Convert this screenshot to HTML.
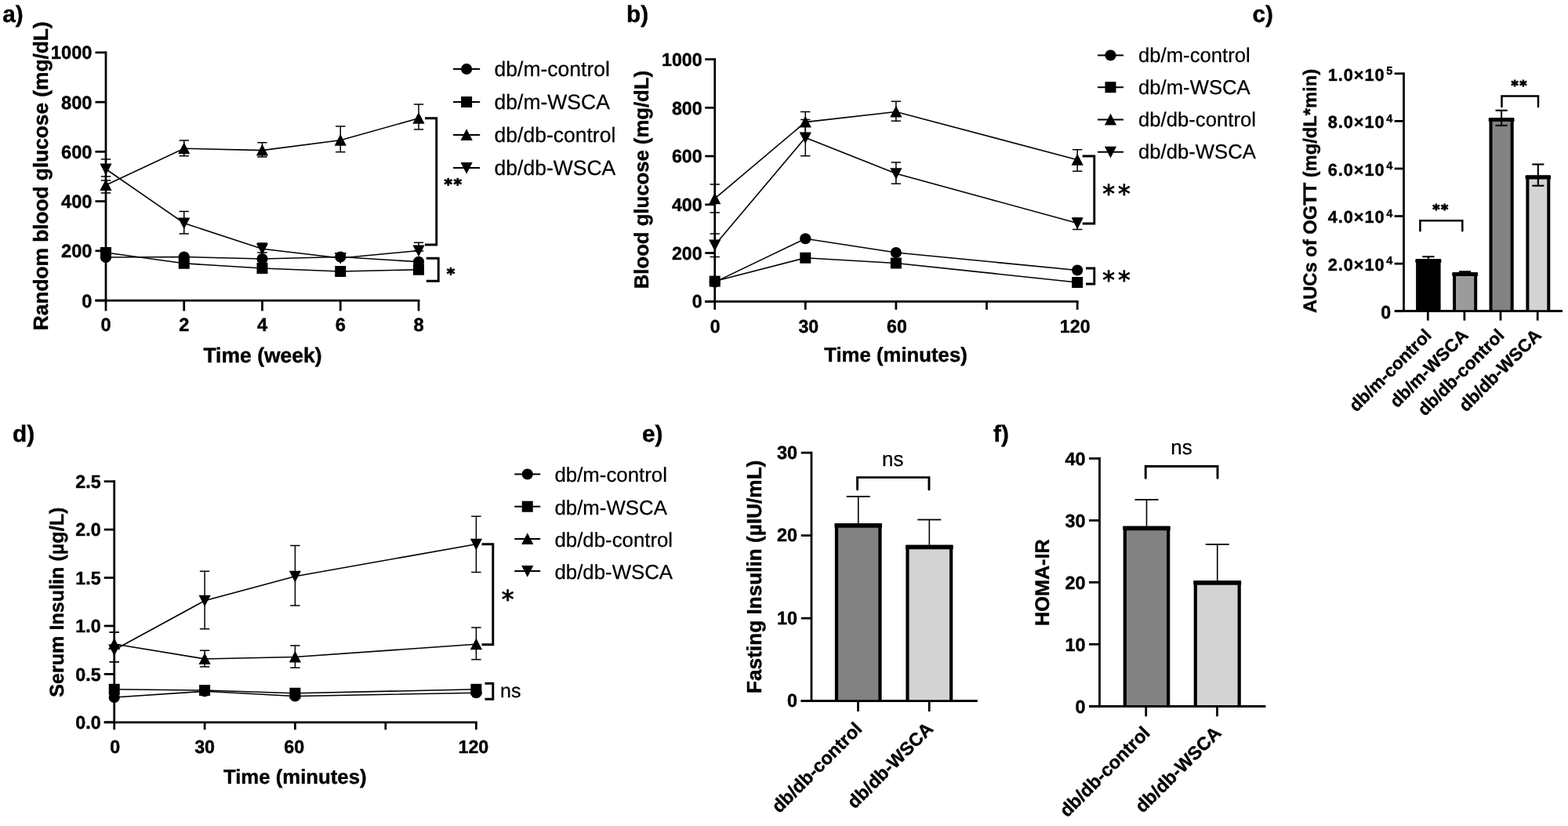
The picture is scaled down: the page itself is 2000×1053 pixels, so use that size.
<!DOCTYPE html>
<html lang="en">
<head>
<meta charset="utf-8">
<title>Figure: glucose and insulin in db/m and db/db mice treated with WSCA</title>
<style>
html,body{margin:0;padding:0;background:#fff;}
body{width:2000px;height:1053px;overflow:hidden;}
svg{display:block;font-family:'Liberation Sans', sans-serif;fill:#000;text-rendering:geometricPrecision;}
text.b{font-weight:bold;stroke:#000;stroke-width:0.42px;stroke-linejoin:round;}
text.r{font-weight:normal;stroke:#000;stroke-width:0.25px;stroke-linejoin:round;}
</style>
</head>
<body>
<svg width="2000" height="1053" viewBox="0 0 2000 1053">
<rect x="0" y="0" width="2000" height="1053" fill="#fff"/>
<text class="b" x="3.30" y="27.60" font-size="29.8" text-anchor="start">a)</text>
<line x1="135.00" y1="65.58" x2="135.00" y2="384.38" stroke="#000" stroke-width="2.75" stroke-linecap="butt"/>
<line x1="121.50" y1="383.00" x2="535.38" y2="383.00" stroke="#000" stroke-width="2.75" stroke-linecap="butt"/>
<line x1="121.50" y1="66.95" x2="135.00" y2="66.95" stroke="#000" stroke-width="2.75" stroke-linecap="butt"/>
<text class="b" x="117.50" y="75.46" font-size="23.7" text-anchor="end">1000</text>
<line x1="121.50" y1="130.16" x2="135.00" y2="130.16" stroke="#000" stroke-width="2.75" stroke-linecap="butt"/>
<text class="b" x="117.50" y="138.67" font-size="23.7" text-anchor="end">800</text>
<line x1="121.50" y1="193.37" x2="135.00" y2="193.37" stroke="#000" stroke-width="2.75" stroke-linecap="butt"/>
<text class="b" x="117.50" y="201.88" font-size="23.7" text-anchor="end">600</text>
<line x1="121.50" y1="256.58" x2="135.00" y2="256.58" stroke="#000" stroke-width="2.75" stroke-linecap="butt"/>
<text class="b" x="117.50" y="265.09" font-size="23.7" text-anchor="end">400</text>
<line x1="121.50" y1="319.79" x2="135.00" y2="319.79" stroke="#000" stroke-width="2.75" stroke-linecap="butt"/>
<text class="b" x="117.50" y="328.30" font-size="23.7" text-anchor="end">200</text>
<line x1="121.50" y1="383.00" x2="135.00" y2="383.00" stroke="#000" stroke-width="2.75" stroke-linecap="butt"/>
<text class="b" x="117.50" y="391.51" font-size="23.7" text-anchor="end">0</text>
<line x1="135.00" y1="383.00" x2="135.00" y2="396.40" stroke="#000" stroke-width="2.75" stroke-linecap="butt"/>
<text class="b" x="135.00" y="422.20" font-size="23.7" text-anchor="middle">0</text>
<line x1="234.75" y1="383.00" x2="234.75" y2="396.40" stroke="#000" stroke-width="2.75" stroke-linecap="butt"/>
<text class="b" x="234.75" y="422.20" font-size="23.7" text-anchor="middle">2</text>
<line x1="334.50" y1="383.00" x2="334.50" y2="396.40" stroke="#000" stroke-width="2.75" stroke-linecap="butt"/>
<text class="b" x="334.50" y="422.20" font-size="23.7" text-anchor="middle">4</text>
<line x1="434.25" y1="383.00" x2="434.25" y2="396.40" stroke="#000" stroke-width="2.75" stroke-linecap="butt"/>
<text class="b" x="434.25" y="422.20" font-size="23.7" text-anchor="middle">6</text>
<line x1="534.00" y1="383.00" x2="534.00" y2="396.40" stroke="#000" stroke-width="2.75" stroke-linecap="butt"/>
<text class="b" x="534.00" y="422.20" font-size="23.7" text-anchor="middle">8</text>
<text class="b" x="61.30" y="224.30" font-size="26.25" text-anchor="middle" transform="rotate(-90 61.30 224.30)">Random blood glucose (mg/dL)</text>
<text class="b" x="335.00" y="462.00" font-size="26.5" text-anchor="middle">Time (week)</text>
<polyline points="135.00,328.00 234.75,327.50 334.50,330.00 434.25,327.50 534.00,333.75" fill="none" stroke="#000" stroke-width="1.6"/>
<circle cx="135.00" cy="328.00" r="7.10"/>
<circle cx="234.75" cy="327.50" r="7.10"/>
<circle cx="334.50" cy="330.00" r="7.10"/>
<circle cx="434.25" cy="327.50" r="7.10"/>
<circle cx="534.00" cy="333.75" r="7.10"/>
<polyline points="135.00,322.00 234.75,335.75 334.50,342.00 434.25,346.00 534.00,343.75" fill="none" stroke="#000" stroke-width="1.6"/>
<rect x="128.00" y="315.00" width="14.00" height="14.00"/>
<rect x="227.75" y="328.75" width="14.00" height="14.00"/>
<rect x="327.50" y="335.00" width="14.00" height="14.00"/>
<rect x="427.25" y="339.00" width="14.00" height="14.00"/>
<rect x="527.00" y="336.75" width="14.00" height="14.00"/>
<polyline points="135.00,236.00 234.75,189.30 334.50,191.60 434.25,178.75 534.00,150.75" fill="none" stroke="#000" stroke-width="1.6"/>
<line x1="135.00" y1="225.00" x2="135.00" y2="246.00" stroke="#000" stroke-width="1.5" stroke-linecap="butt"/>
<line x1="128.80" y1="225.00" x2="141.20" y2="225.00" stroke="#000" stroke-width="1.5" stroke-linecap="butt"/>
<line x1="128.80" y1="246.00" x2="141.20" y2="246.00" stroke="#000" stroke-width="1.5" stroke-linecap="butt"/>
<line x1="234.75" y1="179.00" x2="234.75" y2="198.75" stroke="#000" stroke-width="1.5" stroke-linecap="butt"/>
<line x1="228.55" y1="179.00" x2="240.95" y2="179.00" stroke="#000" stroke-width="1.5" stroke-linecap="butt"/>
<line x1="228.55" y1="198.75" x2="240.95" y2="198.75" stroke="#000" stroke-width="1.5" stroke-linecap="butt"/>
<line x1="334.50" y1="181.75" x2="334.50" y2="200.00" stroke="#000" stroke-width="1.5" stroke-linecap="butt"/>
<line x1="328.30" y1="181.75" x2="340.70" y2="181.75" stroke="#000" stroke-width="1.5" stroke-linecap="butt"/>
<line x1="328.30" y1="200.00" x2="340.70" y2="200.00" stroke="#000" stroke-width="1.5" stroke-linecap="butt"/>
<line x1="434.25" y1="161.00" x2="434.25" y2="193.75" stroke="#000" stroke-width="1.5" stroke-linecap="butt"/>
<line x1="428.05" y1="161.00" x2="440.45" y2="161.00" stroke="#000" stroke-width="1.5" stroke-linecap="butt"/>
<line x1="428.05" y1="193.75" x2="440.45" y2="193.75" stroke="#000" stroke-width="1.5" stroke-linecap="butt"/>
<line x1="534.00" y1="133.00" x2="534.00" y2="165.00" stroke="#000" stroke-width="1.5" stroke-linecap="butt"/>
<line x1="527.80" y1="133.00" x2="540.20" y2="133.00" stroke="#000" stroke-width="1.5" stroke-linecap="butt"/>
<line x1="527.80" y1="165.00" x2="540.20" y2="165.00" stroke="#000" stroke-width="1.5" stroke-linecap="butt"/>
<polygon points="135.00,228.20 142.60,243.00 127.40,243.00"/>
<polygon points="234.75,181.50 242.35,196.30 227.15,196.30"/>
<polygon points="334.50,183.80 342.10,198.60 326.90,198.60"/>
<polygon points="434.25,170.95 441.85,185.75 426.65,185.75"/>
<polygon points="534.00,142.95 541.60,157.75 526.40,157.75"/>
<polyline points="135.00,215.50 234.75,284.50 334.50,317.30 434.25,329.00 534.00,319.50" fill="none" stroke="#000" stroke-width="1.6"/>
<line x1="135.00" y1="203.00" x2="135.00" y2="230.00" stroke="#000" stroke-width="1.5" stroke-linecap="butt"/>
<line x1="128.80" y1="203.00" x2="141.20" y2="203.00" stroke="#000" stroke-width="1.5" stroke-linecap="butt"/>
<line x1="128.80" y1="230.00" x2="141.20" y2="230.00" stroke="#000" stroke-width="1.5" stroke-linecap="butt"/>
<line x1="234.75" y1="269.50" x2="234.75" y2="298.00" stroke="#000" stroke-width="1.5" stroke-linecap="butt"/>
<line x1="228.55" y1="269.50" x2="240.95" y2="269.50" stroke="#000" stroke-width="1.5" stroke-linecap="butt"/>
<line x1="228.55" y1="298.00" x2="240.95" y2="298.00" stroke="#000" stroke-width="1.5" stroke-linecap="butt"/>
<line x1="334.50" y1="310.00" x2="334.50" y2="322.00" stroke="#000" stroke-width="1.5" stroke-linecap="butt"/>
<line x1="328.30" y1="310.00" x2="340.70" y2="310.00" stroke="#000" stroke-width="1.5" stroke-linecap="butt"/>
<line x1="328.30" y1="322.00" x2="340.70" y2="322.00" stroke="#000" stroke-width="1.5" stroke-linecap="butt"/>
<line x1="534.00" y1="309.30" x2="534.00" y2="320.00" stroke="#000" stroke-width="1.5" stroke-linecap="butt"/>
<line x1="527.80" y1="309.30" x2="540.20" y2="309.30" stroke="#000" stroke-width="1.5" stroke-linecap="butt"/>
<line x1="527.80" y1="320.00" x2="540.20" y2="320.00" stroke="#000" stroke-width="1.5" stroke-linecap="butt"/>
<polygon points="135.00,223.30 142.60,208.50 127.40,208.50"/>
<polygon points="234.75,292.30 242.35,277.50 227.15,277.50"/>
<polygon points="334.50,325.10 342.10,310.30 326.90,310.30"/>
<polygon points="434.25,336.80 441.85,322.00 426.65,322.00"/>
<polygon points="534.00,327.30 541.60,312.50 526.40,312.50"/>
<path d="M542.00,150.75 H556.75 V312.00 H542.00" fill="none" stroke="#000" stroke-width="2.9" stroke-linejoin="miter" stroke-linecap="butt"/>
<text x="578.50" y="241.60" font-family="'DejaVu Sans', 'Liberation Sans', sans-serif" font-size="20" font-weight="bold" text-anchor="middle" letter-spacing="1.5" stroke="#000" stroke-width="1.0" stroke-linejoin="round">**</text>
<path d="M543.75,329.25 H559.25 V358.25 H543.75" fill="none" stroke="#000" stroke-width="2.9" stroke-linejoin="miter" stroke-linecap="butt"/>
<text x="575.00" y="355.60" font-family="'DejaVu Sans', 'Liberation Sans', sans-serif" font-size="20" font-weight="bold" text-anchor="middle" stroke="#000" stroke-width="1.0" stroke-linejoin="round">*</text>
<line x1="578.00" y1="88.00" x2="612.20" y2="88.00" stroke="#000" stroke-width="2.1" stroke-linecap="butt"/>
<circle cx="595.10" cy="88.00" r="7.10"/>
<text class="r" x="630.60" y="97.01" font-size="26.5" text-anchor="start">db/m-control</text>
<line x1="578.00" y1="130.00" x2="612.20" y2="130.00" stroke="#000" stroke-width="2.1" stroke-linecap="butt"/>
<rect x="588.10" y="123.00" width="14.00" height="14.00"/>
<text class="r" x="630.60" y="139.01" font-size="26.5" text-anchor="start">db/m-WSCA</text>
<line x1="578.00" y1="172.00" x2="612.20" y2="172.00" stroke="#000" stroke-width="2.1" stroke-linecap="butt"/>
<polygon points="595.10,164.20 602.70,179.00 587.50,179.00"/>
<text class="r" x="630.60" y="181.01" font-size="26.5" text-anchor="start">db/db-control</text>
<line x1="578.00" y1="214.00" x2="612.20" y2="214.00" stroke="#000" stroke-width="2.1" stroke-linecap="butt"/>
<polygon points="595.10,221.80 602.70,207.00 587.50,207.00"/>
<text class="r" x="630.60" y="223.01" font-size="26.5" text-anchor="start">db/db-WSCA</text>
<text class="b" x="799.00" y="27.50" font-size="29.8" text-anchor="start">b)</text>
<line x1="911.75" y1="74.22" x2="911.75" y2="385.62" stroke="#000" stroke-width="2.75" stroke-linecap="butt"/>
<line x1="899.25" y1="384.25" x2="1375.58" y2="384.25" stroke="#000" stroke-width="2.75" stroke-linecap="butt"/>
<line x1="899.25" y1="75.60" x2="911.75" y2="75.60" stroke="#000" stroke-width="2.75" stroke-linecap="butt"/>
<text class="b" x="895.65" y="83.84" font-size="23.2" text-anchor="end">1000</text>
<line x1="899.25" y1="137.33" x2="911.75" y2="137.33" stroke="#000" stroke-width="2.75" stroke-linecap="butt"/>
<text class="b" x="895.65" y="145.57" font-size="23.2" text-anchor="end">800</text>
<line x1="899.25" y1="199.06" x2="911.75" y2="199.06" stroke="#000" stroke-width="2.75" stroke-linecap="butt"/>
<text class="b" x="895.65" y="207.30" font-size="23.2" text-anchor="end">600</text>
<line x1="899.25" y1="260.79" x2="911.75" y2="260.79" stroke="#000" stroke-width="2.75" stroke-linecap="butt"/>
<text class="b" x="895.65" y="269.03" font-size="23.2" text-anchor="end">400</text>
<line x1="899.25" y1="322.52" x2="911.75" y2="322.52" stroke="#000" stroke-width="2.75" stroke-linecap="butt"/>
<text class="b" x="895.65" y="330.76" font-size="23.2" text-anchor="end">200</text>
<line x1="899.25" y1="384.25" x2="911.75" y2="384.25" stroke="#000" stroke-width="2.75" stroke-linecap="butt"/>
<text class="b" x="895.65" y="392.49" font-size="23.2" text-anchor="end">0</text>
<line x1="911.75" y1="384.25" x2="911.75" y2="394.75" stroke="#000" stroke-width="2.75" stroke-linecap="butt"/>
<text class="b" x="912.25" y="423.55" font-size="23.2" text-anchor="middle">0</text>
<line x1="1027.30" y1="384.25" x2="1027.30" y2="394.75" stroke="#000" stroke-width="2.75" stroke-linecap="butt"/>
<text class="b" x="1031.30" y="423.55" font-size="23.2" text-anchor="middle">30</text>
<line x1="1142.90" y1="384.25" x2="1142.90" y2="394.75" stroke="#000" stroke-width="2.75" stroke-linecap="butt"/>
<text class="b" x="1143.90" y="423.55" font-size="23.2" text-anchor="middle">60</text>
<line x1="1258.50" y1="384.25" x2="1258.50" y2="394.75" stroke="#000" stroke-width="2.75" stroke-linecap="butt"/>
<line x1="1374.20" y1="384.25" x2="1374.20" y2="394.75" stroke="#000" stroke-width="2.75" stroke-linecap="butt"/>
<text class="b" x="1371.20" y="423.55" font-size="23.2" text-anchor="middle">120</text>
<text class="b" x="827.00" y="229.10" font-size="25.7" text-anchor="middle" transform="rotate(-90 827.00 229.10)">Blood glucose (mg/dL)</text>
<text class="b" x="1142.50" y="461.25" font-size="25.75" text-anchor="middle">Time (minutes)</text>
<polyline points="911.75,359.60 1027.30,304.25 1142.90,322.00 1374.20,344.50" fill="none" stroke="#000" stroke-width="1.6"/>
<circle cx="911.75" cy="359.60" r="7.10"/>
<circle cx="1027.30" cy="304.25" r="7.10"/>
<circle cx="1142.90" cy="322.00" r="7.10"/>
<circle cx="1374.20" cy="344.50" r="7.10"/>
<polyline points="911.75,358.60 1027.30,328.75 1142.90,335.50 1374.20,360.00" fill="none" stroke="#000" stroke-width="1.6"/>
<rect x="904.75" y="351.60" width="14.00" height="14.00"/>
<rect x="1020.30" y="321.75" width="14.00" height="14.00"/>
<rect x="1135.90" y="328.50" width="14.00" height="14.00"/>
<rect x="1367.20" y="353.00" width="14.00" height="14.00"/>
<polyline points="911.75,253.20 1027.30,155.60 1142.90,142.50 1374.20,203.75" fill="none" stroke="#000" stroke-width="1.6"/>
<line x1="911.75" y1="235.00" x2="911.75" y2="271.00" stroke="#000" stroke-width="1.5" stroke-linecap="butt"/>
<line x1="905.55" y1="235.00" x2="917.95" y2="235.00" stroke="#000" stroke-width="1.5" stroke-linecap="butt"/>
<line x1="905.55" y1="271.00" x2="917.95" y2="271.00" stroke="#000" stroke-width="1.5" stroke-linecap="butt"/>
<line x1="1027.30" y1="142.50" x2="1027.30" y2="171.00" stroke="#000" stroke-width="1.5" stroke-linecap="butt"/>
<line x1="1021.10" y1="142.50" x2="1033.50" y2="142.50" stroke="#000" stroke-width="1.5" stroke-linecap="butt"/>
<line x1="1021.10" y1="171.00" x2="1033.50" y2="171.00" stroke="#000" stroke-width="1.5" stroke-linecap="butt"/>
<line x1="1142.90" y1="129.25" x2="1142.90" y2="154.25" stroke="#000" stroke-width="1.5" stroke-linecap="butt"/>
<line x1="1136.70" y1="129.25" x2="1149.10" y2="129.25" stroke="#000" stroke-width="1.5" stroke-linecap="butt"/>
<line x1="1136.70" y1="154.25" x2="1149.10" y2="154.25" stroke="#000" stroke-width="1.5" stroke-linecap="butt"/>
<line x1="1374.20" y1="190.75" x2="1374.20" y2="218.25" stroke="#000" stroke-width="1.5" stroke-linecap="butt"/>
<line x1="1368.00" y1="190.75" x2="1380.40" y2="190.75" stroke="#000" stroke-width="1.5" stroke-linecap="butt"/>
<line x1="1368.00" y1="218.25" x2="1380.40" y2="218.25" stroke="#000" stroke-width="1.5" stroke-linecap="butt"/>
<polygon points="911.75,245.40 919.35,260.20 904.15,260.20"/>
<polygon points="1027.30,147.80 1034.90,162.60 1019.70,162.60"/>
<polygon points="1142.90,134.70 1150.50,149.50 1135.30,149.50"/>
<polygon points="1374.20,195.95 1381.80,210.75 1366.60,210.75"/>
<polyline points="911.75,312.50 1027.30,175.40 1142.90,221.25 1374.20,284.50" fill="none" stroke="#000" stroke-width="1.6"/>
<line x1="911.75" y1="298.00" x2="911.75" y2="327.50" stroke="#000" stroke-width="1.5" stroke-linecap="butt"/>
<line x1="905.55" y1="298.00" x2="917.95" y2="298.00" stroke="#000" stroke-width="1.5" stroke-linecap="butt"/>
<line x1="905.55" y1="327.50" x2="917.95" y2="327.50" stroke="#000" stroke-width="1.5" stroke-linecap="butt"/>
<line x1="1027.30" y1="152.50" x2="1027.30" y2="198.75" stroke="#000" stroke-width="1.5" stroke-linecap="butt"/>
<line x1="1021.10" y1="152.50" x2="1033.50" y2="152.50" stroke="#000" stroke-width="1.5" stroke-linecap="butt"/>
<line x1="1021.10" y1="198.75" x2="1033.50" y2="198.75" stroke="#000" stroke-width="1.5" stroke-linecap="butt"/>
<line x1="1142.90" y1="207.00" x2="1142.90" y2="234.25" stroke="#000" stroke-width="1.5" stroke-linecap="butt"/>
<line x1="1136.70" y1="207.00" x2="1149.10" y2="207.00" stroke="#000" stroke-width="1.5" stroke-linecap="butt"/>
<line x1="1136.70" y1="234.25" x2="1149.10" y2="234.25" stroke="#000" stroke-width="1.5" stroke-linecap="butt"/>
<line x1="1374.20" y1="278.00" x2="1374.20" y2="292.50" stroke="#000" stroke-width="1.5" stroke-linecap="butt"/>
<line x1="1368.00" y1="278.00" x2="1380.40" y2="278.00" stroke="#000" stroke-width="1.5" stroke-linecap="butt"/>
<line x1="1368.00" y1="292.50" x2="1380.40" y2="292.50" stroke="#000" stroke-width="1.5" stroke-linecap="butt"/>
<polygon points="911.75,320.30 919.35,305.50 904.15,305.50"/>
<polygon points="1027.30,183.20 1034.90,168.40 1019.70,168.40"/>
<polygon points="1142.90,229.05 1150.50,214.25 1135.30,214.25"/>
<polygon points="1374.20,292.30 1381.80,277.50 1366.60,277.50"/>
<path d="M1380.70,199.00 H1395.80 V285.00 H1380.70" fill="none" stroke="#000" stroke-width="2.9" stroke-linejoin="miter" stroke-linecap="butt"/>
<text x="1425.93" y="257.60" font-family="'DejaVu Sans', 'Liberation Sans', sans-serif" font-size="31.5" font-weight="normal" text-anchor="middle" letter-spacing="4.05" stroke="#000" stroke-width="0.9" stroke-linejoin="round">**</text>
<path d="M1385.00,342.00 H1395.80 V362.00 H1385.00" fill="none" stroke="#000" stroke-width="2.9" stroke-linejoin="miter" stroke-linecap="butt"/>
<text x="1425.93" y="367.60" font-family="'DejaVu Sans', 'Liberation Sans', sans-serif" font-size="31.5" font-weight="normal" text-anchor="middle" letter-spacing="4.05" stroke="#000" stroke-width="0.9" stroke-linejoin="round">**</text>
<line x1="1400.00" y1="70.50" x2="1433.00" y2="70.50" stroke="#000" stroke-width="2.1" stroke-linecap="butt"/>
<circle cx="1416.50" cy="70.50" r="7.10"/>
<text class="r" x="1452.00" y="79.24" font-size="25.7" text-anchor="start">db/m-control</text>
<line x1="1400.00" y1="111.25" x2="1433.00" y2="111.25" stroke="#000" stroke-width="2.1" stroke-linecap="butt"/>
<rect x="1409.50" y="104.25" width="14.00" height="14.00"/>
<text class="r" x="1452.00" y="119.99" font-size="25.7" text-anchor="start">db/m-WSCA</text>
<line x1="1400.00" y1="152.50" x2="1433.00" y2="152.50" stroke="#000" stroke-width="2.1" stroke-linecap="butt"/>
<polygon points="1416.50,144.70 1424.10,159.50 1408.90,159.50"/>
<text class="r" x="1452.00" y="161.24" font-size="25.7" text-anchor="start">db/db-control</text>
<line x1="1400.00" y1="193.75" x2="1433.00" y2="193.75" stroke="#000" stroke-width="2.1" stroke-linecap="butt"/>
<polygon points="1416.50,201.55 1424.10,186.75 1408.90,186.75"/>
<text class="r" x="1452.00" y="202.49" font-size="25.7" text-anchor="start">db/db-WSCA</text>
<text class="b" x="1597.50" y="27.50" font-size="29.8" text-anchor="start">c)</text>
<line x1="1790.50" y1="92.42" x2="1790.50" y2="398.07" stroke="#000" stroke-width="2.75" stroke-linecap="butt"/>
<line x1="1779.00" y1="396.70" x2="1993.00" y2="396.70" stroke="#000" stroke-width="2.75" stroke-linecap="butt"/>
<line x1="1778.60" y1="93.80" x2="1790.50" y2="93.80" stroke="#000" stroke-width="2.75" stroke-linecap="butt"/>
<line x1="1778.60" y1="154.38" x2="1790.50" y2="154.38" stroke="#000" stroke-width="2.75" stroke-linecap="butt"/>
<line x1="1778.60" y1="214.96" x2="1790.50" y2="214.96" stroke="#000" stroke-width="2.75" stroke-linecap="butt"/>
<line x1="1778.60" y1="275.54" x2="1790.50" y2="275.54" stroke="#000" stroke-width="2.75" stroke-linecap="butt"/>
<line x1="1778.60" y1="336.12" x2="1790.50" y2="336.12" stroke="#000" stroke-width="2.75" stroke-linecap="butt"/>
<line x1="1778.60" y1="396.70" x2="1790.50" y2="396.70" stroke="#000" stroke-width="2.75" stroke-linecap="butt"/>
<text class="b" x="1777.1" y="102.70" font-size="21.8" letter-spacing="0.9" text-anchor="end">1.0×10<tspan font-size="14.5" dy="-7.6" dx="1.6">5</tspan></text>
<text class="b" x="1777.1" y="163.28" font-size="21.8" letter-spacing="0.9" text-anchor="end">8.0×10<tspan font-size="14.5" dy="-7.6" dx="1.6">4</tspan></text>
<text class="b" x="1777.1" y="223.86" font-size="21.8" letter-spacing="0.9" text-anchor="end">6.0×10<tspan font-size="14.5" dy="-7.6" dx="1.6">4</tspan></text>
<text class="b" x="1777.1" y="284.44" font-size="21.8" letter-spacing="0.9" text-anchor="end">4.0×10<tspan font-size="14.5" dy="-7.6" dx="1.6">4</tspan></text>
<text class="b" x="1777.1" y="345.02" font-size="21.8" letter-spacing="0.9" text-anchor="end">2.0×10<tspan font-size="14.5" dy="-7.6" dx="1.6">4</tspan></text>
<text class="b" x="1774.20" y="406.40" font-size="23.2" text-anchor="end">0</text>
<text class="b" x="1679.50" y="243.40" font-size="23.73" text-anchor="middle" transform="rotate(-90 1679.50 243.40)">AUCs of OGTT (mg/dL*min)</text>
<rect x="1808.10" y="332.20" width="27.50" height="64.50" fill="#000"/>
<path d="M1808.10,396.70 V332.20 H1835.60 V396.70" fill="none" stroke="#000" stroke-width="4.0" stroke-linejoin="miter" stroke-linecap="butt"/>
<rect x="1805.30" y="330.20" width="33.10" height="4.80" rx="0.8" fill="#000"/>
<line x1="1821.85" y1="327.20" x2="1821.85" y2="335.00" stroke="#000" stroke-width="2.1" stroke-linecap="butt"/>
<line x1="1814.25" y1="327.20" x2="1829.45" y2="327.20" stroke="#000" stroke-width="2.1" stroke-linecap="butt"/>
<line x1="1814.25" y1="335.00" x2="1829.45" y2="335.00" stroke="#000" stroke-width="2.1" stroke-linecap="butt"/>
<line x1="1821.30" y1="396.70" x2="1821.30" y2="408.60" stroke="#000" stroke-width="2.75" stroke-linecap="butt"/>
<rect x="1855.00" y="349.20" width="27.20" height="47.50" fill="#9b9b9b"/>
<path d="M1855.00,396.70 V349.20 H1882.20 V396.70" fill="none" stroke="#000" stroke-width="4.0" stroke-linejoin="miter" stroke-linecap="butt"/>
<rect x="1852.20" y="347.20" width="32.80" height="4.80" rx="0.8" fill="#000"/>
<line x1="1868.60" y1="346.30" x2="1868.60" y2="350.00" stroke="#000" stroke-width="2.1" stroke-linecap="butt"/>
<line x1="1861.00" y1="346.30" x2="1876.20" y2="346.30" stroke="#000" stroke-width="2.1" stroke-linecap="butt"/>
<line x1="1861.00" y1="350.00" x2="1876.20" y2="350.00" stroke="#000" stroke-width="2.1" stroke-linecap="butt"/>
<line x1="1867.90" y1="396.70" x2="1867.90" y2="408.60" stroke="#000" stroke-width="2.75" stroke-linecap="butt"/>
<rect x="1901.50" y="152.20" width="27.20" height="244.50" fill="#828282"/>
<path d="M1901.50,396.70 V152.20 H1928.70 V396.70" fill="none" stroke="#000" stroke-width="4.0" stroke-linejoin="miter" stroke-linecap="butt"/>
<rect x="1898.70" y="150.20" width="32.80" height="4.80" rx="0.8" fill="#000"/>
<line x1="1915.10" y1="140.75" x2="1915.10" y2="160.00" stroke="#000" stroke-width="2.1" stroke-linecap="butt"/>
<line x1="1907.50" y1="140.75" x2="1922.70" y2="140.75" stroke="#000" stroke-width="2.1" stroke-linecap="butt"/>
<line x1="1907.50" y1="160.00" x2="1922.70" y2="160.00" stroke="#000" stroke-width="2.1" stroke-linecap="butt"/>
<line x1="1914.00" y1="396.70" x2="1914.00" y2="408.60" stroke="#000" stroke-width="2.75" stroke-linecap="butt"/>
<rect x="1948.40" y="225.60" width="26.90" height="171.10" fill="#d3d3d3"/>
<path d="M1948.40,396.70 V225.60 H1975.30 V396.70" fill="none" stroke="#000" stroke-width="4.0" stroke-linejoin="miter" stroke-linecap="butt"/>
<rect x="1945.60" y="223.60" width="32.50" height="4.80" rx="0.8" fill="#000"/>
<line x1="1961.85" y1="209.50" x2="1961.85" y2="236.75" stroke="#000" stroke-width="2.1" stroke-linecap="butt"/>
<line x1="1954.25" y1="209.50" x2="1969.45" y2="209.50" stroke="#000" stroke-width="2.1" stroke-linecap="butt"/>
<line x1="1954.25" y1="236.75" x2="1969.45" y2="236.75" stroke="#000" stroke-width="2.1" stroke-linecap="butt"/>
<line x1="1961.20" y1="396.70" x2="1961.20" y2="408.60" stroke="#000" stroke-width="2.75" stroke-linecap="butt"/>
<text class="b" x="1827.30" y="428.80" font-size="22.5" text-anchor="end" transform="rotate(-45 1827.30 428.80)">db/m-control</text>
<text class="b" x="1873.90" y="428.80" font-size="22.5" text-anchor="end" transform="rotate(-45 1873.90 428.80)">db/m-WSCA</text>
<text class="b" x="1920.00" y="428.80" font-size="22.5" text-anchor="end" transform="rotate(-45 1920.00 428.80)">db/db-control</text>
<text class="b" x="1967.20" y="428.80" font-size="22.5" text-anchor="end" transform="rotate(-45 1967.20 428.80)">db/db-WSCA</text>
<line x1="1779.00" y1="396.70" x2="1993.00" y2="396.70" stroke="#000" stroke-width="2.75" stroke-linecap="butt"/>
<path d="M1811.40,294.20 V281.30 H1865.30 V294.20" fill="none" stroke="#000" stroke-width="2.5" stroke-linejoin="miter" stroke-linecap="round"/>
<text x="1838.05" y="273.40" font-family="'DejaVu Sans', 'Liberation Sans', sans-serif" font-size="17.6" font-weight="bold" text-anchor="middle" letter-spacing="1.7" stroke="#000" stroke-width="1.1" stroke-linejoin="round">**</text>
<path d="M1915.50,136.00 V122.50 H1962.00 V136.00" fill="none" stroke="#000" stroke-width="2.5" stroke-linejoin="miter" stroke-linecap="round"/>
<text x="1938.35" y="115.00" font-family="'DejaVu Sans', 'Liberation Sans', sans-serif" font-size="17.6" font-weight="bold" text-anchor="middle" letter-spacing="1.7" stroke="#000" stroke-width="1.1" stroke-linejoin="round">**</text>
<text class="b" x="16.00" y="562.50" font-size="29.8" text-anchor="start">d)</text>
<line x1="145.75" y1="612.33" x2="145.75" y2="922.12" stroke="#000" stroke-width="2.75" stroke-linecap="butt"/>
<line x1="132.75" y1="920.75" x2="608.77" y2="920.75" stroke="#000" stroke-width="2.75" stroke-linecap="butt"/>
<line x1="132.75" y1="613.70" x2="145.75" y2="613.70" stroke="#000" stroke-width="2.75" stroke-linecap="butt"/>
<text class="b" x="128.75" y="621.97" font-size="23.3" text-anchor="end">2.5</text>
<line x1="132.75" y1="675.11" x2="145.75" y2="675.11" stroke="#000" stroke-width="2.75" stroke-linecap="butt"/>
<text class="b" x="128.75" y="683.38" font-size="23.3" text-anchor="end">2.0</text>
<line x1="132.75" y1="736.52" x2="145.75" y2="736.52" stroke="#000" stroke-width="2.75" stroke-linecap="butt"/>
<text class="b" x="128.75" y="744.79" font-size="23.3" text-anchor="end">1.5</text>
<line x1="132.75" y1="797.93" x2="145.75" y2="797.93" stroke="#000" stroke-width="2.75" stroke-linecap="butt"/>
<text class="b" x="128.75" y="806.20" font-size="23.3" text-anchor="end">1.0</text>
<line x1="132.75" y1="859.34" x2="145.75" y2="859.34" stroke="#000" stroke-width="2.75" stroke-linecap="butt"/>
<text class="b" x="128.75" y="867.61" font-size="23.3" text-anchor="end">0.5</text>
<line x1="132.75" y1="920.75" x2="145.75" y2="920.75" stroke="#000" stroke-width="2.75" stroke-linecap="butt"/>
<text class="b" x="128.75" y="929.02" font-size="23.3" text-anchor="end">0.0</text>
<line x1="145.75" y1="920.75" x2="145.75" y2="930.25" stroke="#000" stroke-width="2.75" stroke-linecap="butt"/>
<text class="b" x="146.75" y="960.05" font-size="23.3" text-anchor="middle">0</text>
<line x1="261.10" y1="920.75" x2="261.10" y2="930.25" stroke="#000" stroke-width="2.75" stroke-linecap="butt"/>
<text class="b" x="261.10" y="960.05" font-size="23.3" text-anchor="middle">30</text>
<line x1="376.40" y1="920.75" x2="376.40" y2="930.25" stroke="#000" stroke-width="2.75" stroke-linecap="butt"/>
<text class="b" x="375.20" y="960.05" font-size="23.3" text-anchor="middle">60</text>
<line x1="491.80" y1="920.75" x2="491.80" y2="930.25" stroke="#000" stroke-width="2.75" stroke-linecap="butt"/>
<line x1="607.40" y1="920.75" x2="607.40" y2="930.25" stroke="#000" stroke-width="2.75" stroke-linecap="butt"/>
<text class="b" x="603.90" y="960.05" font-size="23.3" text-anchor="middle">120</text>
<text class="b" x="81.00" y="767.70" font-size="25.15" text-anchor="middle" transform="rotate(-90 81.00 767.70)">Serum Insulin (µg/L)</text>
<text class="b" x="376.25" y="998.75" font-size="25.75" text-anchor="middle">Time (minutes)</text>
<polyline points="145.75,889.00 261.10,881.25 376.40,887.50 607.40,883.20" fill="none" stroke="#000" stroke-width="1.6"/>
<circle cx="145.75" cy="889.00" r="7.10"/>
<circle cx="261.10" cy="881.25" r="7.10"/>
<circle cx="376.40" cy="887.50" r="7.10"/>
<circle cx="607.40" cy="883.20" r="7.10"/>
<polyline points="145.75,878.75 261.10,880.00 376.40,883.75 607.40,878.80" fill="none" stroke="#000" stroke-width="1.6"/>
<rect x="138.75" y="871.75" width="14.00" height="14.00"/>
<rect x="254.10" y="873.00" width="14.00" height="14.00"/>
<rect x="369.40" y="876.75" width="14.00" height="14.00"/>
<rect x="600.40" y="871.80" width="14.00" height="14.00"/>
<polyline points="145.75,821.00 261.10,840.00 376.40,837.50 607.40,821.25" fill="none" stroke="#000" stroke-width="1.6"/>
<line x1="145.75" y1="806.00" x2="145.75" y2="843.75" stroke="#000" stroke-width="1.5" stroke-linecap="butt"/>
<line x1="139.55" y1="806.00" x2="151.95" y2="806.00" stroke="#000" stroke-width="1.5" stroke-linecap="butt"/>
<line x1="139.55" y1="843.75" x2="151.95" y2="843.75" stroke="#000" stroke-width="1.5" stroke-linecap="butt"/>
<line x1="261.10" y1="829.25" x2="261.10" y2="850.00" stroke="#000" stroke-width="1.5" stroke-linecap="butt"/>
<line x1="254.90" y1="829.25" x2="267.30" y2="829.25" stroke="#000" stroke-width="1.5" stroke-linecap="butt"/>
<line x1="254.90" y1="850.00" x2="267.30" y2="850.00" stroke="#000" stroke-width="1.5" stroke-linecap="butt"/>
<line x1="376.40" y1="823.00" x2="376.40" y2="851.25" stroke="#000" stroke-width="1.5" stroke-linecap="butt"/>
<line x1="370.20" y1="823.00" x2="382.60" y2="823.00" stroke="#000" stroke-width="1.5" stroke-linecap="butt"/>
<line x1="370.20" y1="851.25" x2="382.60" y2="851.25" stroke="#000" stroke-width="1.5" stroke-linecap="butt"/>
<line x1="607.40" y1="800.00" x2="607.40" y2="840.75" stroke="#000" stroke-width="1.5" stroke-linecap="butt"/>
<line x1="601.20" y1="800.00" x2="613.60" y2="800.00" stroke="#000" stroke-width="1.5" stroke-linecap="butt"/>
<line x1="601.20" y1="840.75" x2="613.60" y2="840.75" stroke="#000" stroke-width="1.5" stroke-linecap="butt"/>
<polygon points="145.75,813.20 153.35,828.00 138.15,828.00"/>
<polygon points="261.10,832.20 268.70,847.00 253.50,847.00"/>
<polygon points="376.40,829.70 384.00,844.50 368.80,844.50"/>
<polygon points="607.40,813.45 615.00,828.25 599.80,828.25"/>
<polyline points="145.75,828.50 261.10,765.75 376.40,734.75 607.40,693.75" fill="none" stroke="#000" stroke-width="1.6"/>
<line x1="145.75" y1="806.00" x2="145.75" y2="843.75" stroke="#000" stroke-width="1.5" stroke-linecap="butt"/>
<line x1="139.55" y1="806.00" x2="151.95" y2="806.00" stroke="#000" stroke-width="1.5" stroke-linecap="butt"/>
<line x1="139.55" y1="843.75" x2="151.95" y2="843.75" stroke="#000" stroke-width="1.5" stroke-linecap="butt"/>
<line x1="261.10" y1="728.25" x2="261.10" y2="801.75" stroke="#000" stroke-width="1.5" stroke-linecap="butt"/>
<line x1="254.90" y1="728.25" x2="267.30" y2="728.25" stroke="#000" stroke-width="1.5" stroke-linecap="butt"/>
<line x1="254.90" y1="801.75" x2="267.30" y2="801.75" stroke="#000" stroke-width="1.5" stroke-linecap="butt"/>
<line x1="376.40" y1="695.50" x2="376.40" y2="772.00" stroke="#000" stroke-width="1.5" stroke-linecap="butt"/>
<line x1="370.20" y1="695.50" x2="382.60" y2="695.50" stroke="#000" stroke-width="1.5" stroke-linecap="butt"/>
<line x1="370.20" y1="772.00" x2="382.60" y2="772.00" stroke="#000" stroke-width="1.5" stroke-linecap="butt"/>
<line x1="607.40" y1="658.25" x2="607.40" y2="729.50" stroke="#000" stroke-width="1.5" stroke-linecap="butt"/>
<line x1="601.20" y1="658.25" x2="613.60" y2="658.25" stroke="#000" stroke-width="1.5" stroke-linecap="butt"/>
<line x1="601.20" y1="729.50" x2="613.60" y2="729.50" stroke="#000" stroke-width="1.5" stroke-linecap="butt"/>
<polygon points="145.75,836.30 153.35,821.50 138.15,821.50"/>
<polygon points="261.10,773.55 268.70,758.75 253.50,758.75"/>
<polygon points="376.40,742.55 384.00,727.75 368.80,727.75"/>
<polygon points="607.40,701.55 615.00,686.75 599.80,686.75"/>
<path d="M614.50,693.75 H628.80 V821.75 H614.50" fill="none" stroke="#000" stroke-width="2.9" stroke-linejoin="miter" stroke-linecap="butt"/>
<text x="647.50" y="774.60" font-family="'DejaVu Sans', 'Liberation Sans', sans-serif" font-size="31.5" font-weight="normal" text-anchor="middle" stroke="#000" stroke-width="0.9" stroke-linejoin="round">*</text>
<path d="M618.50,871.25 H628.80 V891.25 H618.50" fill="none" stroke="#000" stroke-width="2.9" stroke-linejoin="miter" stroke-linecap="butt"/>
<text class="r" x="638.00" y="889.25" font-size="25" text-anchor="start">ns</text>
<line x1="656.25" y1="604.50" x2="689.25" y2="604.50" stroke="#000" stroke-width="2.1" stroke-linecap="butt"/>
<circle cx="672.75" cy="604.50" r="7.10"/>
<text class="r" x="707.50" y="614.27" font-size="25.8" text-anchor="start">db/m-control</text>
<line x1="656.25" y1="645.75" x2="689.25" y2="645.75" stroke="#000" stroke-width="2.1" stroke-linecap="butt"/>
<rect x="665.75" y="638.75" width="14.00" height="14.00"/>
<text class="r" x="707.50" y="655.52" font-size="25.8" text-anchor="start">db/m-WSCA</text>
<line x1="656.25" y1="687.00" x2="689.25" y2="687.00" stroke="#000" stroke-width="2.1" stroke-linecap="butt"/>
<polygon points="672.75,679.20 680.35,694.00 665.15,694.00"/>
<text class="r" x="707.50" y="696.77" font-size="25.8" text-anchor="start">db/db-control</text>
<line x1="656.25" y1="728.00" x2="689.25" y2="728.00" stroke="#000" stroke-width="2.1" stroke-linecap="butt"/>
<polygon points="672.75,735.80 680.35,721.00 665.15,721.00"/>
<text class="r" x="707.50" y="737.77" font-size="25.8" text-anchor="start">db/db-WSCA</text>
<text class="b" x="819.00" y="562.50" font-size="29.8" text-anchor="start">e)</text>
<line x1="1035.00" y1="575.77" x2="1035.00" y2="895.02" stroke="#000" stroke-width="2.75" stroke-linecap="butt"/>
<line x1="1021.75" y1="893.65" x2="1246.75" y2="893.65" stroke="#000" stroke-width="2.75" stroke-linecap="butt"/>
<line x1="1021.75" y1="577.15" x2="1035.00" y2="577.15" stroke="#000" stroke-width="2.75" stroke-linecap="butt"/>
<text class="b" x="1017.20" y="584.85" font-size="23.5" text-anchor="end">30</text>
<line x1="1021.75" y1="682.65" x2="1035.00" y2="682.65" stroke="#000" stroke-width="2.75" stroke-linecap="butt"/>
<text class="b" x="1017.20" y="690.35" font-size="23.5" text-anchor="end">20</text>
<line x1="1021.75" y1="788.15" x2="1035.00" y2="788.15" stroke="#000" stroke-width="2.75" stroke-linecap="butt"/>
<text class="b" x="1017.20" y="795.85" font-size="23.5" text-anchor="end">10</text>
<line x1="1021.75" y1="893.65" x2="1035.00" y2="893.65" stroke="#000" stroke-width="2.75" stroke-linecap="butt"/>
<text class="b" x="1017.20" y="901.35" font-size="23.5" text-anchor="end">0</text>
<text class="b" x="970.80" y="735.30" font-size="26.2" text-anchor="middle" transform="rotate(-90 970.80 735.30)">Fasting Insulin (µIU/mL)</text>
<line x1="1094.75" y1="633.00" x2="1094.75" y2="667.20" stroke="#000" stroke-width="1.6" stroke-linecap="butt"/>
<line x1="1079.75" y1="633.00" x2="1109.75" y2="633.00" stroke="#000" stroke-width="1.8" stroke-linecap="butt"/>
<rect x="1067.00" y="669.30" width="55.50" height="224.35" fill="#828282"/>
<path d="M1067.00,893.65 V669.30 H1122.50 V893.65" fill="none" stroke="#000" stroke-width="4.2" stroke-linejoin="miter" stroke-linecap="butt"/>
<rect x="1064.50" y="667.20" width="60.50" height="5.50" rx="0.8" fill="#000"/>
<line x1="1094.50" y1="893.65" x2="1094.50" y2="907.00" stroke="#000" stroke-width="2.75" stroke-linecap="butt"/>
<text class="b" x="1101.00" y="930.50" font-size="23.5" text-anchor="end" transform="rotate(-45 1101.00 930.50)">db/db-control</text>
<line x1="1185.35" y1="662.50" x2="1185.35" y2="694.70" stroke="#000" stroke-width="1.6" stroke-linecap="butt"/>
<line x1="1170.35" y1="662.50" x2="1200.35" y2="662.50" stroke="#000" stroke-width="1.8" stroke-linecap="butt"/>
<rect x="1157.50" y="696.80" width="55.70" height="196.85" fill="#d3d3d3"/>
<path d="M1157.50,893.65 V696.80 H1213.20 V893.65" fill="none" stroke="#000" stroke-width="4.2" stroke-linejoin="miter" stroke-linecap="butt"/>
<rect x="1155.00" y="694.70" width="60.70" height="5.50" rx="0.8" fill="#000"/>
<line x1="1185.25" y1="893.65" x2="1185.25" y2="907.00" stroke="#000" stroke-width="2.75" stroke-linecap="butt"/>
<text class="b" x="1191.75" y="930.50" font-size="23.5" text-anchor="end" transform="rotate(-45 1191.75 930.50)">db/db-WSCA</text>
<line x1="1021.75" y1="893.65" x2="1246.75" y2="893.65" stroke="#000" stroke-width="2.75" stroke-linecap="butt"/>
<path d="M1093.60,624.00 V608.60 H1185.00 V624.00" fill="none" stroke="#000" stroke-width="2.9" stroke-linejoin="miter" stroke-linecap="round"/>
<text class="r" x="1138.75" y="593.75" font-size="26" text-anchor="middle">ns</text>
<text class="b" x="1267.00" y="562.50" font-size="29.8" text-anchor="start">f)</text>
<line x1="1402.50" y1="583.12" x2="1402.50" y2="901.67" stroke="#000" stroke-width="2.75" stroke-linecap="butt"/>
<line x1="1389.00" y1="900.30" x2="1614.25" y2="900.30" stroke="#000" stroke-width="2.75" stroke-linecap="butt"/>
<line x1="1389.00" y1="584.50" x2="1402.50" y2="584.50" stroke="#000" stroke-width="2.75" stroke-linecap="butt"/>
<text class="b" x="1384.60" y="593.10" font-size="23.4" text-anchor="end">40</text>
<line x1="1389.00" y1="663.45" x2="1402.50" y2="663.45" stroke="#000" stroke-width="2.75" stroke-linecap="butt"/>
<text class="b" x="1384.60" y="672.05" font-size="23.4" text-anchor="end">30</text>
<line x1="1389.00" y1="742.40" x2="1402.50" y2="742.40" stroke="#000" stroke-width="2.75" stroke-linecap="butt"/>
<text class="b" x="1384.60" y="751.00" font-size="23.4" text-anchor="end">20</text>
<line x1="1389.00" y1="821.35" x2="1402.50" y2="821.35" stroke="#000" stroke-width="2.75" stroke-linecap="butt"/>
<text class="b" x="1384.60" y="829.95" font-size="23.4" text-anchor="end">10</text>
<line x1="1389.00" y1="900.30" x2="1402.50" y2="900.30" stroke="#000" stroke-width="2.75" stroke-linecap="butt"/>
<text class="b" x="1384.60" y="908.90" font-size="23.4" text-anchor="end">0</text>
<text class="b" x="1338.20" y="742.60" font-size="25.2" text-anchor="middle" transform="rotate(-90 1338.20 742.60)">HOMA-IR</text>
<line x1="1462.50" y1="637.00" x2="1462.50" y2="670.80" stroke="#000" stroke-width="1.6" stroke-linecap="butt"/>
<line x1="1447.50" y1="637.00" x2="1477.50" y2="637.00" stroke="#000" stroke-width="1.8" stroke-linecap="butt"/>
<rect x="1434.80" y="672.90" width="55.40" height="227.40" fill="#828282"/>
<path d="M1434.80,900.30 V672.90 H1490.20 V900.30" fill="none" stroke="#000" stroke-width="4.2" stroke-linejoin="miter" stroke-linecap="butt"/>
<rect x="1432.30" y="670.80" width="60.40" height="5.50" rx="0.8" fill="#000"/>
<line x1="1461.75" y1="900.30" x2="1461.75" y2="913.25" stroke="#000" stroke-width="2.75" stroke-linecap="butt"/>
<text class="b" x="1468.25" y="935.80" font-size="23.5" text-anchor="end" transform="rotate(-45 1468.25 935.80)">db/db-control</text>
<line x1="1552.75" y1="694.00" x2="1552.75" y2="740.20" stroke="#000" stroke-width="1.6" stroke-linecap="butt"/>
<line x1="1537.75" y1="694.00" x2="1567.75" y2="694.00" stroke="#000" stroke-width="1.8" stroke-linecap="butt"/>
<rect x="1524.80" y="742.30" width="55.90" height="158.00" fill="#d3d3d3"/>
<path d="M1524.80,900.30 V742.30 H1580.70 V900.30" fill="none" stroke="#000" stroke-width="4.2" stroke-linejoin="miter" stroke-linecap="butt"/>
<rect x="1522.30" y="740.20" width="60.90" height="5.50" rx="0.8" fill="#000"/>
<line x1="1552.50" y1="900.30" x2="1552.50" y2="913.25" stroke="#000" stroke-width="2.75" stroke-linecap="butt"/>
<text class="b" x="1559.00" y="935.80" font-size="23.5" text-anchor="end" transform="rotate(-45 1559.00 935.80)">db/db-WSCA</text>
<line x1="1389.00" y1="900.30" x2="1614.25" y2="900.30" stroke="#000" stroke-width="2.75" stroke-linecap="butt"/>
<path d="M1461.25,609.50 V594.50 H1553.00 V609.50" fill="none" stroke="#000" stroke-width="2.9" stroke-linejoin="miter" stroke-linecap="round"/>
<text class="r" x="1507.00" y="578.75" font-size="26" text-anchor="middle">ns</text>
</svg>
</body>
</html>
